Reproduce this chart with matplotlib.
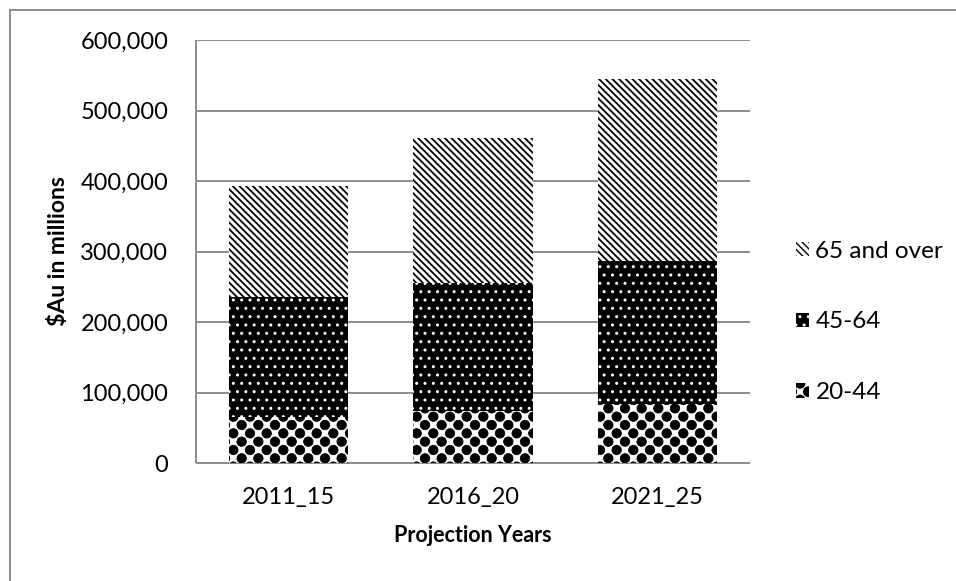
import matplotlib
matplotlib.use('Agg')
import numpy as np
import matplotlib.pyplot as plt
import matplotlib.hatch as mhatch
from matplotlib.path import Path
from matplotlib.patches import Patch
from matplotlib.lines import Line2D
import matplotlib.ticker as mticker

# ---------------- data ----------------
categories = ['2011_15', '2016_20', '2021_25']
age_20_44 = [65000, 74000, 83500]
age_45_64 = [170000, 182000, 202500]
age_65_over = [158000, 205000, 259000]
series_labels = ['20-44', '45-64', '65 and over']
y_ticks = [0, 100000, 200000, 300000, 400000, 500000, 600000]
x_title = 'Projection Years'
y_title = '$Au in millions'


# ---- custom "sphere" hatch: staggered filled balls (used via '*') ----
class _BallHatch(mhatch.HatchPatternBase):
    _unit = Path.unit_circle()

    def __init__(self, hatch, density):
        self.active = hatch.count('*') > 0
        self.centers = []
        if self.active:
            ncol, nrow, r = 6, 12, 0.047
            for i in range(nrow + 1):
                y = i / nrow
                if i % 2 == 0:
                    xs = [j / ncol for j in range(ncol + 1)]
                else:
                    xs = [(j + 0.5) / ncol for j in range(ncol)]
                for xx in xs:
                    self.centers.append((xx, y))
            self.r = r
        self.num_vertices = len(self.centers) * len(self._unit.vertices)

    def set_vertices_and_codes(self, vertices, codes):
        n = len(self._unit.vertices)
        for k, (cx, cy) in enumerate(self.centers):
            vertices[k * n:(k + 1) * n] = self._unit.vertices * self.r + (cx, cy)
            codes[k * n:(k + 1) * n] = self._unit.codes


mhatch._hatch_types = [t for t in mhatch._hatch_types if t is not mhatch.Stars] + [_BallHatch]

plt.rcParams['font.family'] = ['Lato', 'DejaVu Sans']

W, H = 956, 581
fig = plt.figure(figsize=(W / 100, H / 100), dpi=100)
ax = fig.add_axes([196 / W, 1 - 463 / H, 554 / W, 423 / H])

grid_col = '#8c8c8c'
FS = 17
LFS = 17.5

# style per series: (face, hatch, hatch colour, hatch linewidth)
styles = [
    ('white', '*', 'black', 0.6),
    ('black', '..', 'white', 1.0),
    ('white', '\\\\\\\\\\', 'black', 1.3),
]
series = [age_20_44, age_45_64, age_65_over]

x = list(range(len(categories)))
bottom = [0] * len(categories)
handles = []
for vals, lab, (fc, hat, hc, hlw) in zip(series, series_labels, styles):
    with plt.rc_context({'hatch.linewidth': hlw}):
        bars = ax.bar(x, vals, width=0.645, bottom=bottom, facecolor=fc,
                      edgecolor=hc, hatch=hat, linewidth=0, zorder=3, label=lab)
        for b in bars:
            if hasattr(b, 'set_hatch_linewidth'):
                b.set_hatch_linewidth(hlw)
        h = Patch(facecolor=fc, edgecolor=hc, hatch=hat, linewidth=0, label=lab)
        if hasattr(h, 'set_hatch_linewidth'):
            h.set_hatch_linewidth(hlw)
    handles.append(h)
    bottom = [b0 + v for b0, v in zip(bottom, vals)]

ax.set_xlim(-0.5, len(categories) - 0.5)
ax.set_ylim(y_ticks[0], y_ticks[-1])
ax.set_yticks(y_ticks)
ax.yaxis.set_major_formatter(mticker.FuncFormatter(lambda v, p: f'{int(v):,}'))
ax.set_xticks(x)
ax.set_xticklabels(categories)
ax.tick_params(axis='both', length=0, labelsize=FS)
ax.tick_params(axis='y', pad=20)
ax.tick_params(axis='x', pad=17)
ax.grid(axis='y', color=grid_col, linewidth=1.4, zorder=0)
ax.set_axisbelow(True)
for s in ['top', 'right']:
    ax.spines[s].set_visible(False)
for s in ['left', 'bottom']:
    ax.spines[s].set_color(grid_col)
    ax.spines[s].set_linewidth(1.4)
    ax.spines[s].set_capstyle('butt')

ax.set_xlabel(x_title, fontsize=15.5, fontweight='bold', va='center')
ax.xaxis.set_label_coords(0.5, (463 - 535) / 423)
ax.set_ylabel(y_title, fontsize=16.5, fontweight='bold', va='center')
ax.yaxis.set_label_coords((59 - 196) / 554, 0.5)

fig.legend(handles=handles[::-1], labels=series_labels[::-1], loc='center left',
           bbox_to_anchor=(796 / W, 1 - 322 / H), frameon=False, fontsize=LFS,
           handlelength=0.55, handleheight=0.55, handletextpad=0.25, labelspacing=2.05,
           borderaxespad=0, borderpad=0)

# outer chart frame (only top/left visible in the crop)
fig.add_artist(Line2D([9.5 / W, 9.5 / W], [0, 1 - 9.5 / H], color=grid_col, linewidth=1.4))
fig.add_artist(Line2D([9.5 / W, 1], [1 - 9.5 / H, 1 - 9.5 / H], color=grid_col, linewidth=1.4))

fig.savefig('out.png', dpi=100, facecolor='white')
